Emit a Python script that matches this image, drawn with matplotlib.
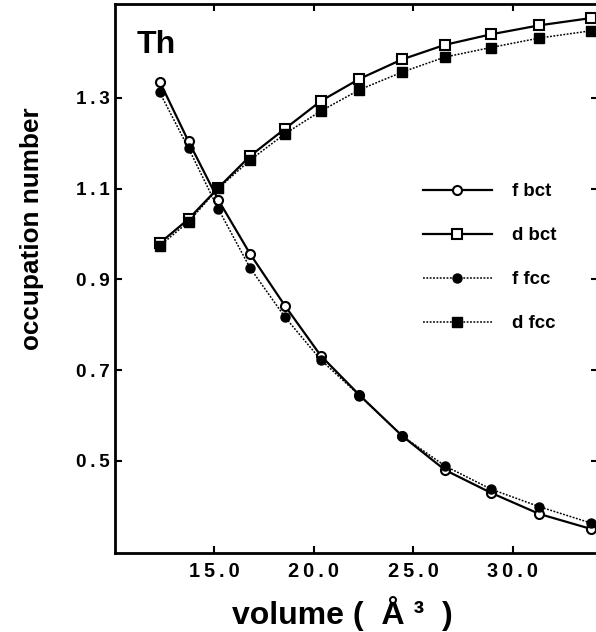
import matplotlib
matplotlib.use("Agg")
import matplotlib.pyplot as plt
from matplotlib.ticker import FuncFormatter, FixedLocator

# ---- data ----
volume = [12.25, 13.7, 15.2, 16.8, 18.55, 20.35, 22.3, 24.45, 26.6, 28.9, 31.35, 33.95]
f_bct = [1.336, 1.204, 1.075, 0.956, 0.842, 0.732, 0.645, 0.555, 0.480, 0.430, 0.383, 0.350]
d_bct = [0.980, 1.033, 1.102, 1.172, 1.232, 1.293, 1.342, 1.385, 1.417, 1.440, 1.460, 1.476]
f_fcc = [1.312, 1.189, 1.055, 0.925, 0.817, 0.723, 0.644, 0.555, 0.489, 0.438, 0.399, 0.363]
d_fcc = [0.974, 1.027, 1.101, 1.163, 1.221, 1.271, 1.318, 1.357, 1.390, 1.411, 1.432, 1.448]

series_labels = ["f bct", "d bct", "f fcc", "d fcc"]
x_ticks = [15.0, 20.0, 25.0, 30.0]
y_ticks = [0.5, 0.7, 0.9, 1.1, 1.3]
panel_label = "Th"
x_label = "volume (  Å ³  )"
y_label = "occupation number"

plt.rcParams["font.family"] = ["Liberation Sans", "DejaVu Sans"]
plt.rcParams["font.weight"] = "bold"

W, H = 596, 632
fig = plt.figure(figsize=(W / 100, H / 100), dpi=100)
ax = fig.add_axes([115 / W, 1 - 553 / H, 483 / W, 549 / H])

ax.plot(volume, f_bct, linestyle="-", color="black", lw=1.6, marker="o",
        ms=6.5, mfc="white", mec="black", mew=1.5, label=series_labels[0], zorder=3)
ax.plot(volume, d_bct, linestyle="-", color="black", lw=1.6, marker="s",
        ms=6.8, mfc="white", mec="black", mew=1.5, label=series_labels[1], zorder=3)
ax.plot(volume, f_fcc, linestyle=(0, (1.2, 1.0)), color="black", lw=1.1, marker="o",
        ms=6.5, mfc="black", mec="black", mew=1.0, label=series_labels[2], zorder=4)
ax.plot(volume, d_fcc, linestyle=(0, (1.2, 1.0)), color="black", lw=1.1, marker="s",
        ms=6.8, mfc="black", mec="black", mew=1.0, label=series_labels[3], zorder=4)

ax.set_xlim(10.0, 34.3)
ax.set_ylim(0.297, 1.507)

ax.xaxis.set_major_locator(FixedLocator(x_ticks))
ax.yaxis.set_major_locator(FixedLocator(y_ticks))
spaced = FuncFormatter(lambda v, p: "\u2009".join(f"{v:.1f}"))
ax.xaxis.set_major_formatter(spaced)
ax.yaxis.set_major_formatter(spaced)

ax.tick_params(axis="both", direction="in", length=5, width=1.5,
               top=True, right=True, colors="black")
ax.tick_params(axis="x", labelsize=14.3, pad=6.5)
ax.tick_params(axis="y", labelsize=13.6, pad=3.6)
for lab in ax.get_xticklabels() + ax.get_yticklabels():
    lab.set_fontweight("bold")

for s in ax.spines.values():
    s.set_linewidth(2.0)

leg = ax.legend(loc="upper left", bbox_to_anchor=(423 / W, 1 - 183 / H),
                bbox_transform=fig.transFigure, frameon=False, borderpad=0,
                borderaxespad=0, handlelength=3.7, handletextpad=1.07,
                labelspacing=1.45, prop={"family": "Liberation Sans",
                                         "weight": "bold", "size": 13.4})

fig.text(137 / W, 1 - 53 / H, panel_label, fontsize=23, fontweight="bold",
         ha="left", va="baseline")
fig.text(232 / W, 1 - 624 / H, x_label, fontsize=23, fontweight="bold",
         ha="left", va="baseline")
fig.text(32 / W, 1 - 229 / H, y_label, fontsize=18.8, fontweight="bold",
         rotation=90, ha="center", va="center")

fig.savefig("out.png", dpi=100)
